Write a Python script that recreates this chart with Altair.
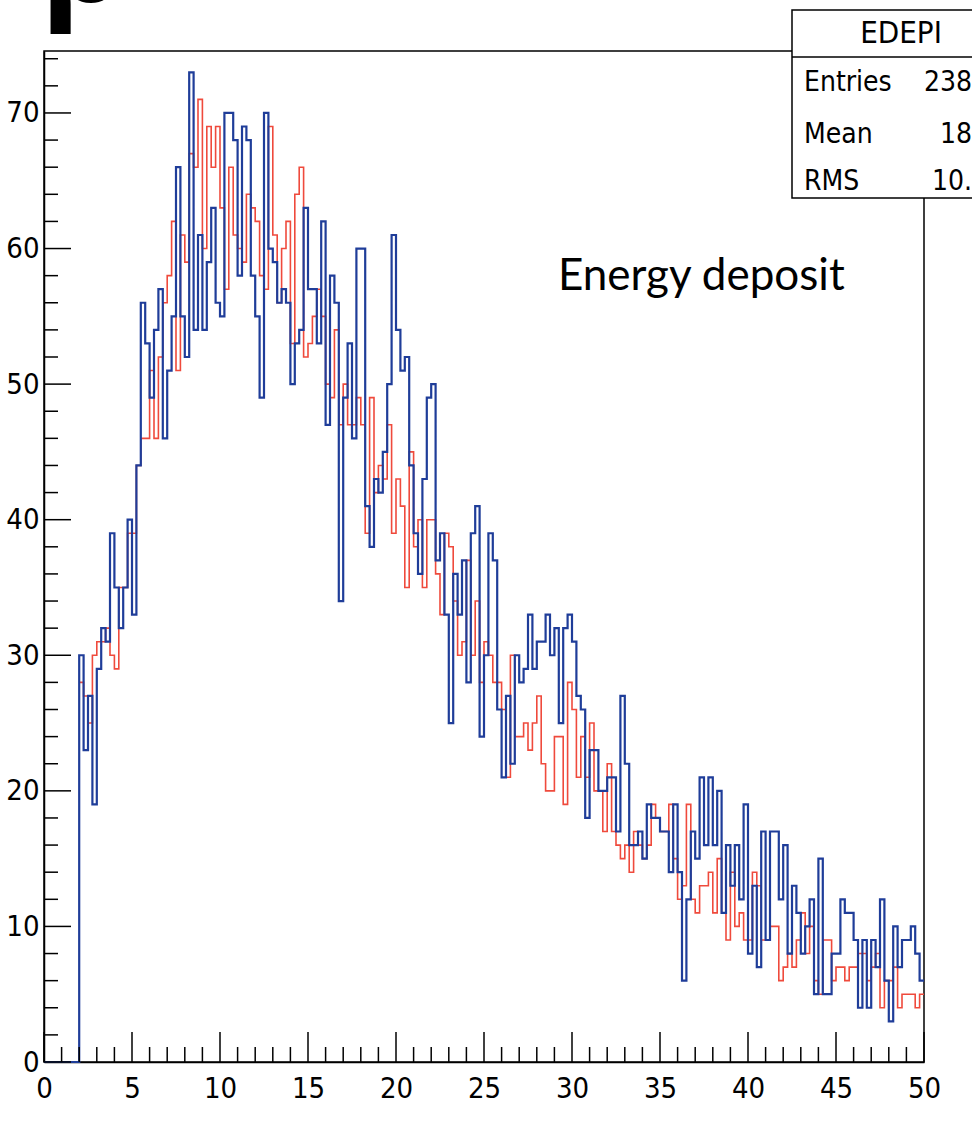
import altair as alt
import pandas as pd

# ---------------- data ----------------
BIN_START = 2.0
BIN_WIDTH = 0.25

blue_counts = [
    30, 23, 27, 19, 29, 32, 31, 39, 35, 32, 35, 40, 33, 44, 56, 53, 49, 54, 57, 46,
    51, 55, 66, 55, 52, 73, 54, 61, 54, 59, 63, 56, 55, 70, 70, 68, 58, 69, 68, 58,
    55, 49, 70, 60, 59, 56, 57, 56, 50, 53, 54, 63, 57, 57, 53, 62, 47, 58, 56, 34,
    49, 53, 46, 60, 60, 41, 38, 43, 42, 45, 50, 61, 54, 51, 52, 44, 39, 36, 43, 49,
    50, 37, 39, 33, 25, 36, 33, 37, 28, 39, 41, 24, 30, 39, 37, 26, 21, 27, 22, 30,
    28, 29, 33, 29, 31, 31, 33, 30, 32, 25, 32, 33, 31, 27, 26, 18, 23, 23, 20, 20,
    21, 21, 17, 27, 22, 16, 16, 17, 15, 19, 18, 18, 17, 17, 14, 19, 14, 6, 12, 17,
    15, 21, 16, 21, 16, 20, 11, 16, 13, 16, 12, 19, 8, 13, 7, 17, 9, 17, 17, 12,
    16, 8, 13, 11, 8, 10, 12, 5, 15, 5, 5, 8, 8, 12, 11, 11, 9, 4, 9, 4,
    9, 7, 12, 6, 3, 10, 7, 9, 9, 10, 8, 6,
]

red_counts = [
    28, 27, 25, 30, 31, 31, 32, 30, 29, 35, 35, 39, 39, 44, 46, 46, 51, 46, 52, 56,
    58, 62, 51, 61, 59, 67, 66, 71, 60, 69, 66, 69, 63, 57, 66, 61, 60, 59, 64, 63,
    62, 58, 57, 69, 61, 56, 60, 62, 53, 64, 66, 52, 53, 55, 57, 55, 50, 49, 54, 47,
    50, 47, 47, 49, 47, 39, 49, 42, 44, 43, 47, 39, 43, 41, 35, 45, 38, 40, 35, 40,
    40, 36, 33, 39, 38, 34, 30, 31, 37, 30, 34, 28, 31, 30, 28, 28, 26, 21, 30, 24,
    24, 25, 23, 25, 27, 22, 20, 20, 24, 24, 19, 28, 26, 21, 24, 21, 25, 20, 20, 17,
    22, 17, 16, 15, 16, 14, 17, 16, 15, 16, 19, 18, 17, 17, 19, 15, 12, 13, 19, 12,
    11, 13, 13, 14, 11, 15, 11, 9, 14, 10, 11, 9, 9, 14, 13, 9, 9, 10, 10, 6,
    7, 8, 7, 9, 11, 8, 10, 6, 5, 9, 9, 6, 7, 7, 6, 7, 7, 8, 8, 6,
    7, 8, 4, 6, 6, 7, 4, 5, 5, 5, 4, 5,
]

x_major = [0, 5, 10, 15, 20, 25, 30, 35, 40, 45, 50]
x_minor = [v for v in range(1, 50) if v % 5 != 0]
y_major = [0, 10, 20, 30, 40, 50, 60, 70]
y_minor = [v for v in range(2, 75, 2) if v % 10 != 0]
X_DOMAIN = [0, 50]
Y_DOMAIN = [0, 74.57]

stats_title = "EDEPI"
stats_labels = ["Entries", "Mean", "RMS"]
stats_values = ["238", "18", "10."]
annotation = "Energy deposit"
cut_title = "p"

BLUE = "#1f3d99"
RED = "#ef4a3c"
AXIS_FONT = "'DejaVu Sans Condensed', 'Liberation Sans', sans-serif"

W, H = 880, 1011


def step_frame(counts, lead_zero):
    xs = [BIN_START + BIN_WIDTH * i for i in range(len(counts) + 1)]
    ys = list(counts) + [counts[-1]]
    if lead_zero:
        xs = [0.0] + xs
        ys = [0] + ys
    return pd.DataFrame({"x": xs, "y": ys, "o": list(range(len(xs)))})


xs = alt.Scale(domain=X_DOMAIN, nice=False, zero=False)
ys = alt.Scale(domain=Y_DOMAIN, nice=False, zero=False)

x_axis = alt.Axis(values=x_major, title=None, grid=False, ticks=False, tickSize=0,
                  labelFont=AXIS_FONT, labelFontSize=29, labelColor="black",
                  labelPadding=12, domainColor="black", domainWidth=1.5,
                  labelFlush=False, labelOverlap=False)
y_axis = alt.Axis(values=y_major, title=None, grid=False, ticks=False, tickSize=0,
                  labelFont=AXIS_FONT, labelFontSize=29, labelColor="black",
                  labelPadding=5, domainColor="black", domainWidth=1.5,
                  labelFlush=False, labelOverlap=False)

red_line = alt.Chart(step_frame(red_counts, False)).mark_line(
    interpolate="step-after", color=RED, strokeWidth=1.6
).encode(
    x=alt.X("x:Q", scale=xs, axis=x_axis),
    y=alt.Y("y:Q", scale=ys, axis=y_axis),
    order="o:Q",
)

blue_line = alt.Chart(step_frame(blue_counts, True)).mark_line(
    interpolate="step-after", color=BLUE, strokeWidth=2.2
).encode(
    x=alt.X("x:Q", scale=xs, axis=x_axis),
    y=alt.Y("y:Q", scale=ys, axis=y_axis),
    order="o:Q",
)


# inward ticks (ROOT style)
def yticks(vals, length):
    return alt.Chart(pd.DataFrame({"v": vals})).mark_rule(color="black", strokeWidth=1.5).encode(
        y=alt.Y("v:Q", scale=ys, axis=y_axis), x=alt.value(0), x2=alt.value(length))


def xticks(vals, length):
    return alt.Chart(pd.DataFrame({"v": vals})).mark_rule(color="black", strokeWidth=1.5).encode(
        x=alt.X("v:Q", scale=xs, axis=x_axis), y=alt.value(H), y2=alt.value(H - length))


one = pd.DataFrame({"a": [0]})

stats_box = alt.Chart(one).mark_rect(fill="white", stroke="black", strokeWidth=1.5).encode(
    x=alt.value(748), x2=alt.value(945), y=alt.value(-41), y2=alt.value(147))
stats_sep = alt.Chart(one).mark_rule(color="black", strokeWidth=1.5).encode(
    x=alt.value(748), x2=alt.value(945), y=alt.value(6))


def label(text, x, y, size, align="left", font=AXIS_FONT, weight="normal", baseline="middle"):
    return alt.Chart(pd.DataFrame({"t": [text]})).mark_text(
        align=align, baseline=baseline, font=font, fontSize=size, fontWeight=weight, color="black"
    ).encode(text="t:N", x=alt.value(x), y=alt.value(y))


texts = [label(stats_title, 857, -17, 31, align="center")]
row_y = [32, 84, 131]
for lab, val, yy in zip(stats_labels, stats_values, row_y):
    texts.append(label(lab, 760, yy, 28))
    texts.append(label(val, 928, yy, 28, align="right"))

texts.append(label(annotation, 514, 226, 44, font="Lato"))
texts.append(label(cut_title, -4, -49, 135, font="Open Sans", weight="bold", baseline="alphabetic"))

chart = alt.layer(
    red_line, blue_line,
    yticks(y_major, 27), yticks(y_minor, 14),
    xticks(x_major, 30), xticks(x_minor, 15),
    stats_box, stats_sep, *texts,
).properties(
    width=W, height=H,
    autosize=alt.AutoSizeParams(type="none"),
    padding={"left": 44, "top": 51, "right": 48, "bottom": 59},
    background="white",
).configure_view(stroke="black", strokeWidth=1.5)

chart.save("out.html", embed_options={"renderer": "svg", "actions": False})
